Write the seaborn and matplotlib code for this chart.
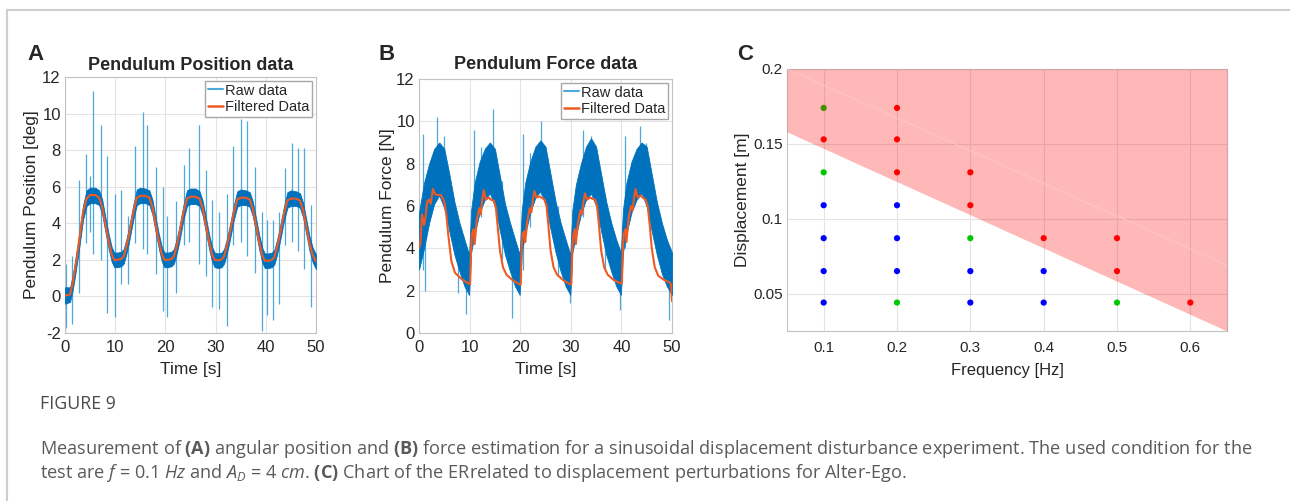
import matplotlib
matplotlib.use("Agg")
import matplotlib.pyplot as plt
from matplotlib.lines import Line2D
import seaborn as sns

# ---- panel A: pendulum position [deg] ----
pos_t = [0, 1.0, 1.5, 2.0, 2.7, 3.6, 4.3, 5.0, 6.0, 6.8, 7.4, 8.0, 8.7, 9.3, 9.8,
         10.5, 11.2, 11.7, 12.2, 12.7, 13.6, 14.3, 15.0, 16.0, 16.8, 17.4, 18.0, 18.7, 19.3, 19.8,
         20.5, 21.2, 21.7, 22.2, 22.7, 23.6, 24.3, 25.0, 26.0, 26.8, 27.4, 28.0, 28.7, 29.3, 29.8,
         30.5, 31.2, 31.7, 32.2, 32.7, 33.6, 34.3, 35.0, 36.0, 36.8, 37.4, 38.0, 38.7, 39.3, 39.8,
         40.5, 41.2, 41.7, 42.2, 42.7, 43.6, 44.3, 45.0, 46.0, 46.8, 47.4, 48.0, 48.7, 49.3, 49.8, 50.0]
pos_filt = [0.05, 0.1, 0.7, 1.5, 2.8, 4.6, 5.35, 5.55, 5.55, 5.4, 4.9, 4.0, 3.0, 2.3, 2.0,
            2.0, 2.05, 2.2, 2.7, 3.3, 4.6, 5.4, 5.5, 5.5, 5.4, 4.9, 4.0, 3.0, 2.3, 2.0,
            2.0, 2.05, 2.2, 2.7, 3.3, 4.6, 5.35, 5.45, 5.45, 5.35, 4.85, 4.0, 3.0, 2.3, 2.0,
            1.97, 2.02, 2.2, 2.7, 3.3, 4.55, 5.3, 5.4, 5.4, 5.3, 4.8, 3.95, 2.95, 2.25, 1.95,
            1.95, 2.0, 2.15, 2.65, 3.25, 4.5, 5.25, 5.35, 5.35, 5.25, 4.75, 3.9, 2.9, 2.3, 2.0, 1.9]
pos_raw_lo = [-0.4, -0.3, 0.3, 1.1, 2.4, 4.2, 4.95, 5.1, 5.1, 5.0, 4.5, 3.6, 2.6, 1.9, 1.6,
              1.6, 1.65, 1.8, 2.3, 2.9, 4.2, 5.0, 5.1, 5.1, 5.0, 4.5, 3.6, 2.6, 1.9, 1.6,
              1.6, 1.65, 1.8, 2.3, 2.9, 4.2, 4.95, 5.05, 5.05, 4.95, 4.45, 3.6, 2.6, 1.9, 1.6,
              1.55, 1.6, 1.8, 2.3, 2.9, 4.15, 4.9, 5.0, 5.0, 4.9, 4.4, 3.55, 2.55, 1.85, 1.55,
              1.55, 1.6, 1.75, 2.25, 2.85, 4.1, 4.85, 4.95, 4.95, 4.85, 4.35, 3.5, 2.5, 1.9, 1.6, 1.5]
pos_raw_hi = [0.5, 0.5, 1.1, 1.9, 3.2, 5.0, 5.8, 5.95, 5.95, 5.8, 5.3, 4.4, 3.4, 2.7, 2.4,
              2.4, 2.45, 2.6, 3.1, 3.7, 5.0, 5.85, 5.95, 5.9, 5.8, 5.3, 4.4, 3.4, 2.7, 2.4,
              2.4, 2.45, 2.6, 3.1, 3.7, 5.0, 5.8, 5.9, 5.9, 5.75, 5.25, 4.4, 3.4, 2.7, 2.4,
              2.35, 2.4, 2.6, 3.1, 3.7, 4.95, 5.75, 5.85, 5.8, 5.7, 5.2, 4.35, 3.35, 2.65, 2.35,
              2.35, 2.4, 2.55, 3.05, 3.65, 4.9, 5.7, 5.8, 5.75, 5.65, 5.15, 4.3, 3.3, 2.7, 2.4, 2.3]
pos_spike_t = [0.2, 1.3, 2.7, 4.2, 4.9, 5.6, 7.1, 8.3, 9.9, 11.1,
               12.6, 13.9, 15.5, 16.4, 18.2, 19.5, 20.4, 22.2, 23.7, 24.8,
               26.7, 28.0, 29.3, 30.6, 32.2, 33.4, 35.1, 36.3, 37.8, 39.3,
               40.2, 41.4, 42.6, 43.9, 45.2, 46.4, 47.6, 49.0]
pos_spike_lo = [-1.7, -1.5, 0.2, 2.9, 3.5, 2.3, 2.0, -0.9, -1.1, 0.7,
                0.7, 2.9, 2.6, 2.3, 1.2, -0.8, -1.1, 0.2, 2.8, 3.0,
                1.8, 1.1, -0.6, -0.7, -1.6, 2.8, 3.0, 2.2, 1.3, -1.9,
                -1.0, -1.3, -0.4, 2.8, 3.0, 2.5, 1.5, -0.6]
pos_spike_hi = [1.8, 2.2, 6.35, 7.8, 6.6, 11.25, 9.4, 7.7, 5.6, 5.8,
                4.4, 8.2, 10.1, 9.4, 7.1, 6.0, 4.4, 5.2, 7.2, 8.1,
                9.4, 6.9, 5.3, 4.6, 5.6, 8.2, 9.7, 9.6, 7.1, 4.6,
                4.2, 4.2, 4.6, 7.0, 8.4, 8.1, 8.1, 5.0]

# ---- panel B: pendulum force [N] ----
force_t = [0, 0.3, 0.6, 1.0, 1.3, 1.6, 2.0, 2.3, 2.75, 3.2, 4.4, 5.0, 5.4, 5.8, 6.4, 7.1, 8.4, 9.7,
           10.1, 10.3, 10.5, 10.8, 11.0, 11.4, 11.9, 12.2, 12.5, 12.8, 13.2, 13.8, 14.2, 14.8, 15.2, 15.6, 16.0, 16.6, 17.3, 18.5, 19.8,
           20.1, 20.3, 20.5, 20.8, 21.0, 21.4, 21.9, 22.2, 22.5, 22.8, 23.2, 23.8, 24.2, 24.8, 25.2, 25.6, 26.0, 26.6, 27.3, 28.5, 29.8,
           30.1, 30.3, 30.5, 30.8, 31.0, 31.4, 31.9, 32.2, 32.5, 32.8, 33.2, 33.8, 34.2, 34.8, 35.2, 35.6, 36.0, 36.6, 37.3, 38.5, 39.8,
           40.1, 40.3, 40.5, 40.8, 41.0, 41.4, 41.9, 42.2, 42.5, 42.8, 43.2, 43.8, 44.2, 44.8, 45.2, 45.6, 46.0, 46.6, 47.3, 48.5, 49.5, 49.8, 50.0]
force_filt = [4.0, 4.3, 5.6, 5.1, 5.5, 6.2, 6.3, 6.1, 6.8, 6.55, 6.5, 6.2, 5.6, 4.6, 3.4, 2.85, 2.55, 2.35,
              2.3, 4.0, 4.7, 4.9, 4.2, 5.3, 5.9, 5.6, 6.3, 6.75, 6.3, 6.4, 6.3, 6.25, 5.9, 4.9, 3.9, 3.1, 2.75, 2.5, 2.3,
              2.3, 4.0, 4.7, 4.8, 4.3, 5.3, 5.9, 5.7, 6.3, 6.7, 6.4, 6.45, 6.4, 6.3, 6.0, 5.0, 3.9, 3.1, 2.75, 2.5, 2.3,
              2.3, 4.0, 4.6, 4.9, 4.2, 5.2, 5.8, 5.6, 6.2, 6.6, 6.3, 6.4, 6.35, 6.3, 6.0, 5.0, 3.9, 3.1, 2.75, 2.5, 2.35,
              2.35, 4.1, 4.7, 4.9, 4.3, 5.4, 6.0, 5.8, 6.4, 6.8, 6.4, 6.5, 6.4, 6.3, 6.0, 5.1, 4.0, 3.1, 2.7, 2.5, 2.4, 2.3, 1.5]
force_raw_t = [0, 1, 2, 3, 4, 5, 6, 7, 8, 9, 9.9,
               10.3, 11, 12, 13, 14, 15, 16, 17, 18, 19, 19.9,
               20.3, 21, 22, 23, 24, 25, 26, 27, 28, 29, 29.9,
               30.3, 31, 32, 33, 34, 35, 36, 37, 38, 39, 39.9,
               40.3, 41, 42, 43, 44, 45, 46, 47, 48, 49, 50]
force_raw_lo = [3.0, 4.0, 5.2, 6.1, 6.5, 5.9, 4.8, 3.7, 2.9, 2.2, 1.8,
                3.8, 4.7, 5.7, 6.3, 6.6, 6.0, 4.8, 3.7, 2.9, 2.2, 1.8,
                3.8, 4.7, 5.7, 6.4, 6.7, 6.1, 4.9, 3.8, 2.9, 2.2, 1.8,
                3.8, 4.6, 5.6, 6.3, 6.6, 6.0, 4.8, 3.7, 2.9, 2.2, 1.8,
                3.8, 4.7, 5.7, 6.3, 6.6, 6.0, 4.8, 3.7, 2.8, 2.2, 1.8]
force_raw_hi = [5.7, 7.1, 8.0, 8.7, 9.0, 8.7, 7.5, 6.2, 5.2, 4.4, 3.7,
                5.8, 7.1, 8.1, 8.7, 9.0, 8.7, 7.4, 6.1, 5.2, 4.4, 3.7,
                5.8, 7.1, 8.1, 8.8, 9.1, 8.8, 7.5, 6.2, 5.2, 4.4, 3.7,
                5.8, 7.0, 8.0, 8.8, 9.2, 8.8, 7.5, 6.2, 5.2, 4.4, 3.8,
                5.8, 7.1, 8.1, 8.7, 9.0, 8.8, 7.5, 6.2, 5.2, 4.4, 3.8]
force_spike_t = [0.7, 1.1, 3.6, 4.9, 7.7, 9.2, 10.9, 12.3, 14.7, 16.5, 18.3, 20.5,
                 22.0, 24.2, 27.5, 29.9, 32.5, 34.0, 36.7, 39.8, 40.8, 43.7, 44.9, 49.4]
force_spike_lo = [3.0, 2.0, 6.5, 6.0, 1.9, 0.9, 4.3, 5.5, 6.5, 3.5, 0.7, 3.0,
                  5.0, 6.5, 2.7, 1.4, 5.5, 6.5, 3.0, 1.1, 4.0, 6.8, 6.0, 0.6]
force_spike_hi = [9.4, 5.0, 10.2, 9.3, 5.0, 3.8, 9.6, 8.8, 10.6, 7.2, 4.5, 9.4,
                  8.5, 10.0, 6.0, 3.5, 9.6, 9.3, 6.5, 3.5, 9.3, 9.8, 9.0, 3.7]

# ---- panel C: ER chart ----
c_freq = [0.1] * 7 + [0.2] * 7 + [0.3] * 5 + [0.4] * 3 + [0.5] * 3 + [0.6]
c_disp = [0.044, 0.065, 0.087, 0.109, 0.131, 0.153, 0.174,
          0.044, 0.065, 0.087, 0.109, 0.131, 0.153, 0.174,
          0.044, 0.065, 0.087, 0.109, 0.131,
          0.044, 0.065, 0.087,
          0.044, 0.065, 0.087,
          0.044]
c_result = ["stable", "stable", "stable", "stable", "marginal", "unstable", "marginal",
            "marginal", "stable", "stable", "stable", "unstable", "unstable", "unstable",
            "stable", "stable", "marginal", "unstable", "unstable",
            "stable", "stable", "unstable",
            "marginal", "unstable", "unstable",
            "unstable"]
er_x = [0.05, 0.65]
er_low = [0.158, 0.025]
er_mid = [0.2, 0.069]
er_top = [0.2, 0.2]

RAW_DARK = "#0072BD"
RAW_LIGHT = "#4BA9DC"
ORANGE = "#EE5A22"
W, H = 1290, 501

sns.set_theme(style="whitegrid")
plt.rcParams["font.family"] = ["Liberation Sans", "DejaVu Sans"]
plt.rcParams["axes.unicode_minus"] = False
plt.rcParams["mathtext.fontset"] = "custom"
plt.rcParams["mathtext.rm"] = "Open Sans"
plt.rcParams["mathtext.it"] = "Open Sans:italic"
plt.rcParams["mathtext.bf"] = "Open Sans:bold"


def px_axes(fig, left, top, right, bottom):
    return fig.add_axes([left / W, 1 - bottom / H, (right - left) / W, (bottom - top) / H])


def matlab_style(ax, labelsize=12):
    ax.set_facecolor("white")
    for s in ax.spines.values():
        s.set_visible(True)
        s.set_color("#c2c2c2")
        s.set_linewidth(0.8)
    ax.grid(True, color="#e4e4e4", lw=0.8)
    ax.tick_params(direction="in", length=3, color="#c2c2c2", labelsize=labelsize,
                   labelcolor="#262626", pad=3)


def signal_panel(ax, t, filt, raw_t, raw_lo, raw_hi, sp_t, sp_lo, sp_hi):
    ax.vlines(sp_t, sp_lo, sp_hi, color=RAW_LIGHT, lw=0.9, zorder=2)
    ax.fill_between(raw_t, raw_lo, raw_hi, color=RAW_DARK, lw=0.6, edgecolor=RAW_DARK, zorder=3)
    sns.lineplot(x=t, y=filt, ax=ax, color=ORANGE, lw=1.5, zorder=4, estimator=None, sort=False)
    handles = [Line2D([], [], color=RAW_LIGHT, lw=1.5), Line2D([], [], color=ORANGE, lw=1.8)]
    ax.legend(handles, ["Raw data", "Filtered Data"], loc="upper right", fontsize=10.5,
              frameon=True, fancybox=False, edgecolor="#a8a8a8", framealpha=1,
              handlelength=1.05, handletextpad=0.15, borderpad=0.2, labelspacing=0.15,
              borderaxespad=0.25)
    ax.set_xlim(0, 50)
    ax.set_xticks(range(0, 51, 10))
    ax.tick_params(axis="x", pad=5)
    ax.set_xlabel("Time [s]", fontsize=12.5, color="#262626", labelpad=5)


fig = plt.figure(figsize=(12.9, 5.01), dpi=100)

# A
axA = px_axes(fig, 65, 77, 316, 333)
matlab_style(axA)
signal_panel(axA, pos_t, pos_filt, pos_t, pos_raw_lo, pos_raw_hi,
             pos_spike_t, pos_spike_lo, pos_spike_hi)
axA.set_ylim(-2, 12)
axA.set_yticks(range(-2, 13, 2))
axA.set_ylabel("Pendulum Position [deg]", fontsize=12.5, color="#262626", labelpad=2)
axA.set_title("Pendulum Position data", fontsize=13, fontweight="bold", pad=5)

# B
axB = px_axes(fig, 419, 79, 672, 333)
matlab_style(axB)
signal_panel(axB, force_t, force_filt, force_raw_t, force_raw_lo, force_raw_hi,
             force_spike_t, force_spike_lo, force_spike_hi)
axB.set_ylim(0, 12)
axB.set_yticks(range(0, 13, 2))
axB.set_ylabel("Pendulum Force [N]", fontsize=12.5, color="#262626", labelpad=1)
axB.set_title("Pendulum Force data", fontsize=13, fontweight="bold", pad=7)

# C
axC = px_axes(fig, 787, 69, 1227, 331)
matlab_style(axC, labelsize=11)
sns.scatterplot(x=c_freq, y=c_disp, hue=c_result, ax=axC, s=20, linewidth=0, legend=False,
                palette={"stable": "#0000FF", "marginal": "#00C800", "unstable": "#FF0000"},
                zorder=2)
axC.fill_between(er_x, er_low, er_mid, color="#FF0000", alpha=0.28, lw=0, zorder=3)
axC.fill_between(er_x, er_mid, er_top, color="#FF0000", alpha=0.28, lw=0, zorder=3)
axC.plot(er_x, er_mid, color="#FFC6C8", lw=0.6, zorder=3)
axC.set_xlim(0.05, 0.65)
axC.set_ylim(0.025, 0.2)
axC.set_xticks([0.1, 0.2, 0.3, 0.4, 0.5, 0.6])
axC.set_xticklabels(["0.1", "0.2", "0.3", "0.4", "0.5", "0.6"])
axC.set_yticks([0.05, 0.1, 0.15, 0.2])
axC.set_yticklabels(["0.05", "0.1", "0.15", "0.2"])
axC.tick_params(axis="x", pad=7)
axC.set_xlabel("Frequency [Hz]", fontsize=12, color="#262626", labelpad=6)
axC.set_ylabel("Displacement [m]", fontsize=12.5, color="#262626", labelpad=2)

# panel letters
for x, label in [(27, "A"), (378, "B"), (737, "C")]:
    fig.text(x / W, 1 - 55 / H, label, fontsize=16, fontweight="bold", va="center", ha="left")

# page frame
fig.add_artist(Line2D([7 / W, 1], [1 - 9.5 / H, 1 - 9.5 / H], transform=fig.transFigure,
                      color="#cfcfcf", lw=1.5))
fig.add_artist(Line2D([7 / W, 7 / W], [0, 1 - 9.5 / H], transform=fig.transFigure,
                      color="#cfcfcf", lw=1.5))

# caption
cap = dict(family=["Open Sans", "DejaVu Sans"], va="center", ha="left")
fig.text(40 / W, 1 - 404 / H, "FIGURE 9", fontsize=12.8, color="#4a4a4a", **cap)
fig.text(40 / W, 1 - 449 / H,
         r"Measurement of $\mathbf{(A)}$ angular position and $\mathbf{(B)}$ force estimation for a "
         r"sinusoidal displacement disturbance experiment. The used condition for the",
         fontsize=13.1, color="#5a5a5a", **cap)
fig.text(40 / W, 1 - 473 / H,
         r"test are $f$ = 0.1 $Hz$ and $A_D$ = 4 $cm$. $\mathbf{(C)}$ Chart of the ERrelated to "
         r"displacement perturbations for Alter-Ego.",
         fontsize=13.1, color="#5a5a5a", **cap)

fig.savefig("out.png", dpi=100)
